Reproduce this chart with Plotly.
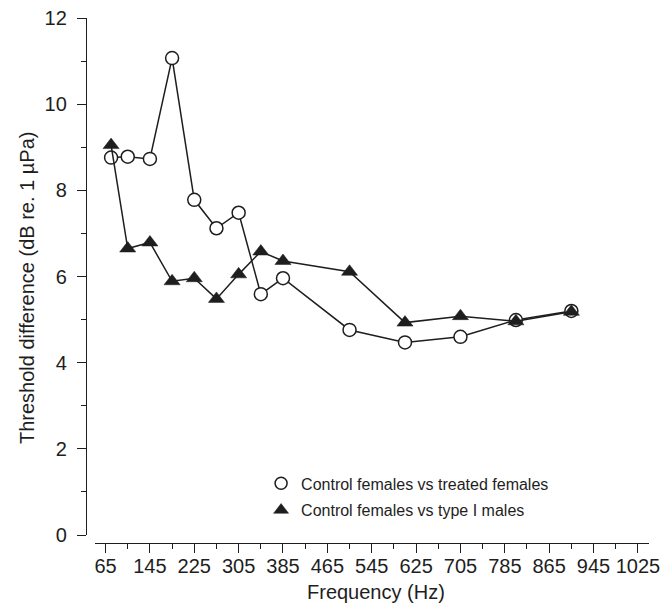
import plotly.graph_objects as go

# Data
freq_hz = [75, 105, 145, 185, 225, 265, 305, 345, 385, 505, 605, 705, 805, 905]
treated_females = [8.76, 8.78, 8.73, 11.07, 7.78, 7.12, 7.48, 5.59, 5.96, 4.76, 4.47, 4.60, 4.99, 5.20]
type1_males = [9.05, 6.65, 6.79, 5.89, 5.96, 5.48, 6.05, 6.58, 6.36, 6.11, 4.93, 5.08, 4.96, 5.18]

name_circle = "Control females vs treated females"
name_tri = "Control females vs type I males"

x_tickvals = [65, 145, 225, 305, 385, 465, 545, 625, 705, 785, 865, 945, 1025]
y_tickvals = [0, 2, 4, 6, 8, 10, 12]

INK = "#1e1e1e"
FONT = "Liberation Sans, Arial, sans-serif"

fig = go.Figure()

fig.add_trace(go.Scatter(
    x=freq_hz, y=treated_females, mode="lines+markers", showlegend=False,
    line=dict(color=INK, width=1.5),
    marker=dict(symbol="circle", size=13, color="white", line=dict(color=INK, width=1.5)),
))
fig.add_trace(go.Scatter(
    x=freq_hz, y=type1_males, mode="lines+markers", showlegend=False,
    line=dict(color=INK, width=1.5),
    marker=dict(symbol="triangle-up", size=14, color=INK, line=dict(color=INK, width=0.5)),
))
# legend-only entries (marker only)
fig.add_trace(go.Scatter(
    x=[None], y=[None], mode="markers", name=name_circle, legendgroup="a",
    marker=dict(symbol="circle", size=12, color="white", line=dict(color=INK, width=1.5)),
))
fig.add_trace(go.Scatter(
    x=[None], y=[None], mode="markers", name=name_tri, legendgroup="b",
    marker=dict(symbol="triangle-up", size=13, color=INK, line=dict(color=INK, width=0.5)),
))

fig.update_layout(
    width=665, height=612,
    margin=dict(l=86, r=16, t=18, b=69, autoexpand=False),
    paper_bgcolor="white", plot_bgcolor="white",
    font=dict(family=FONT, color=INK, size=20),
    showlegend=True,
    legend=dict(
        x=0.311, y=0.146, xanchor="left", yanchor="top",
        font=dict(family=FONT, size=16, color=INK),
        bgcolor="rgba(0,0,0,0)", borderwidth=0,
        tracegroupgap=3, itemwidth=30,
    ),
    xaxis=dict(
        domain=[0.016, 1], anchor="free", position=0, automargin=False,
        range=[46, 1045], showgrid=False, zeroline=False,
        showline=True, linecolor=INK, linewidth=1.3,
        tickmode="array", tickvals=x_tickvals,
        ticks="outside", ticklen=9, tickwidth=1.3, tickcolor=INK,
        ticklabelstandoff=-4,
        tickfont=dict(size=20, family=FONT, color=INK),
        minor=dict(ticks="outside", ticklen=5, tickwidth=1.3, tickcolor=INK,
                   tick0=65, dtick=40, showgrid=False),
    ),
    yaxis=dict(
        domain=[0.0152, 1], anchor="free", position=0, automargin=False,
        range=[0, 12], showgrid=False, zeroline=False,
        showline=True, linecolor=INK, linewidth=1.3,
        tickmode="array", tickvals=y_tickvals,
        ticks="outside", ticklen=9, tickwidth=1.3, tickcolor=INK,
        ticklabelstandoff=6,
        tickfont=dict(size=20, family=FONT, color=INK),
        minor=dict(ticks="outside", ticklen=5, tickwidth=1.3, tickcolor=INK,
                   tick0=0, dtick=1, showgrid=False),
    ),
    annotations=[
        dict(text="Frequency (Hz)", xref="paper", yref="paper",
             x=(376 - 86) / 563, y=(543 - 592) / 525,
             xanchor="center", yanchor="middle", showarrow=False,
             font=dict(size=20, family=FONT, color=INK)),
        dict(text="Threshold difference (dB re. 1 \u00b5Pa)", xref="paper", yref="paper",
             x=(27 - 86) / 563, y=(543 - 288) / 525, textangle=-90,
             xanchor="center", yanchor="middle", showarrow=False,
             font=dict(size=20, family=FONT, color=INK)),
    ],
)

fig.write_html(
    "out.html",
    config={"displayModeBar": False},
    post_script="document.body.style.margin='0';document.body.style.overflow='hidden';",
)
